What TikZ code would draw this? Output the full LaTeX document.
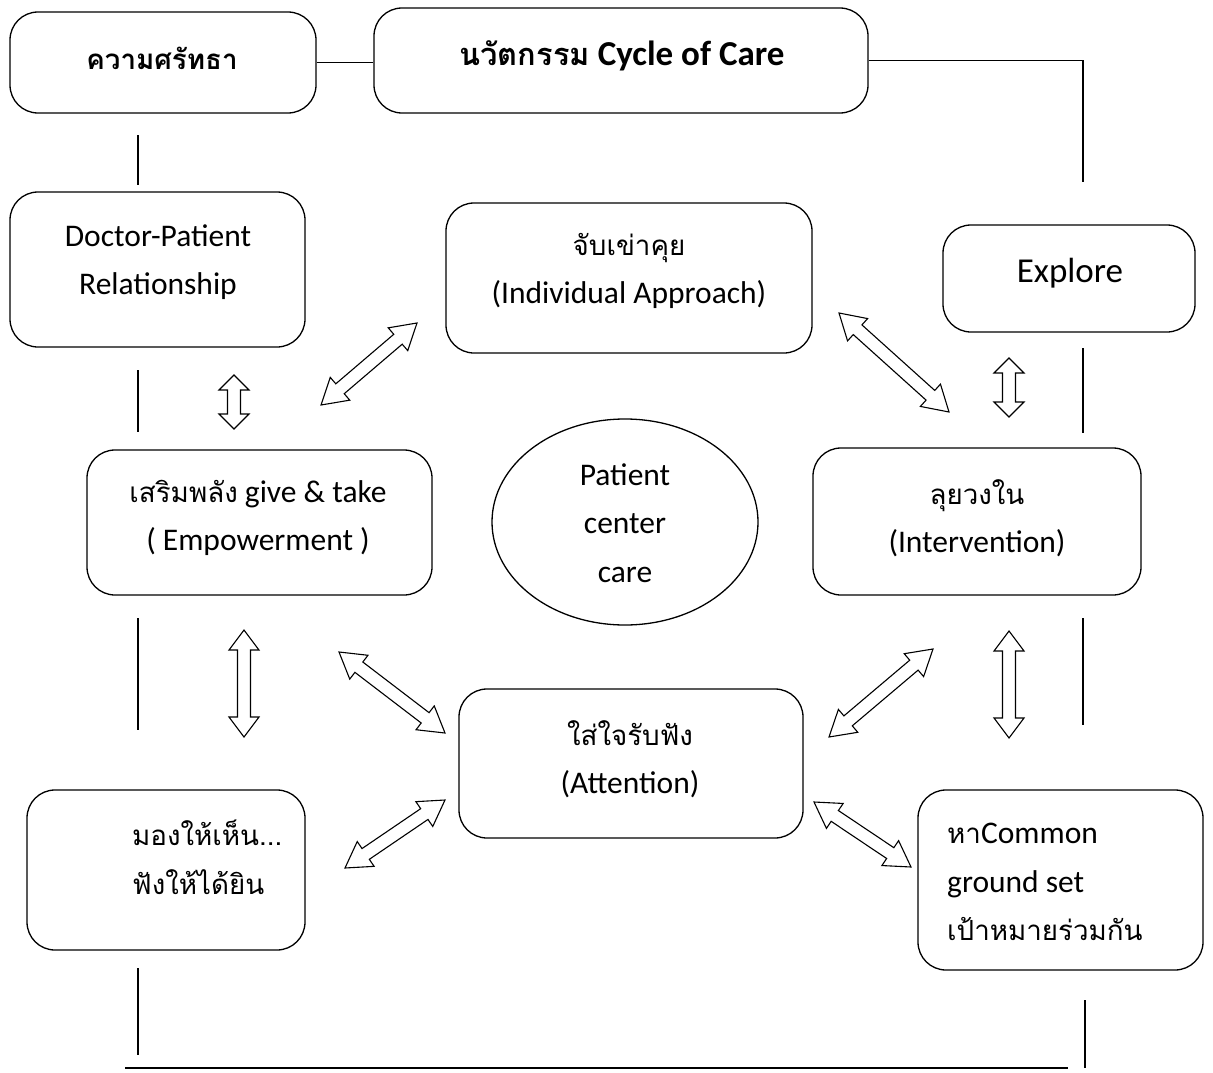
\documentclass[tikz,border=0pt]{standalone}
\usepackage{fontspec}
\setmainfont{Carlito}
\newfontfamily\thai{Loma}[Script=Thai,Scale=0.88]
\newfontfamily\thaiT{Loma}[Script=Thai,Scale=0.88]
\usetikzlibrary{calc,shapes.geometric}
\newcommand{\fnorm}{\fontsize{31.5}{48.5}\selectfont}
\newcommand{\fbig}{\fontsize{35}{40}\selectfont}
\newcommand{\ftitle}{\fontsize{35}{40}\selectfont\bfseries}
\newcommand{\ffaith}{\fontsize{31.5}{40}\selectfont\bfseries}
\newcommand{\blockarrow}[3]{%
 \draw[blockarr] (#1)
  -- ($(#1)!#3!(#2)!15pt!90:(#2)$)
  -- ($(#1)!#3!(#2)!6.5pt!90:(#2)$)
  -- ($(#2)!#3!(#1)!6.5pt!-90:(#1)$)
  -- ($(#2)!#3!(#1)!15pt!-90:(#1)$)
  -- (#2)
  -- ($(#2)!#3!(#1)!15pt!90:(#1)$)
  -- ($(#2)!#3!(#1)!6.5pt!90:(#1)$)
  -- ($(#1)!#3!(#2)!6.5pt!-90:(#2)$)
  -- ($(#1)!#3!(#2)!15pt!-90:(#2)$)
  -- cycle;}
\begin{document}
\begin{tikzpicture}[x=1pt,y=-1pt,
  box/.style={draw, line width=1.3pt, rounded corners=28pt, inner sep=0pt},
  txt/.style={inner sep=0pt, align=center, font=\fnorm},
  ltxt/.style={inner sep=0pt, align=left, font=\fnorm, anchor=west},
  conn/.style={line width=1.2pt},
  blockarr/.style={draw, line width=1.1pt, fill=white, line join=miter}]
\useasboundingbox[fill=white] (0,0) rectangle (1213,1073);

% boxes
\node[box, minimum width=306, minimum height=101] (faith) at (163,62.5) {};
\node[box, minimum width=494, minimum height=105] (title) at (621,60.5) {};
\node[box, minimum width=295, minimum height=155] (doc) at (157.5,269.5) {};
\node[box, minimum width=366, minimum height=150] (ind) at (629,278) {};
\node[box, minimum width=252, minimum height=107] (exp) at (1069,278.5) {};
\node[box, minimum width=345, minimum height=145] (emp) at (259.5,522.5) {};
\node[draw, line width=1.3pt, ellipse, inner sep=0pt, minimum width=266, minimum height=206] (pcc) at (625,522) {};
\node[box, minimum width=328, minimum height=147] (int) at (977,521.5) {};
\node[box, minimum width=344, minimum height=149] (att) at (631,763.5) {};
\node[box, minimum width=278, minimum height=160] (mong) at (166,870) {};
\node[box, minimum width=285, minimum height=180] (com) at (1060.5,880) {};

% texts
\node[txt, font=\ffaith] (faitht) at (162,58) {\thaiT ความศรัทธา};
\node[txt, font=\ftitle] (titlet) at (622,56) {{\thaiT นวัตกรรม} Cycle of Care};
\node[txt] (doct) at (158,262) {Doctor-Patient\\Relationship};
\node[txt] (indt) at (629,271) {{\thai จับเข่าคุย}\\(Individual Approach)};
\node[txt, font=\fbig] (expt) at (1070,273) {Explore};
\node[txt] (empt) at (258,518) {{\thai เสริมพลัง} give \& take\\( Empowerment )};
\node[txt] (pcct) at (625,523) {Patient\\center\\care};
\node[txt] (intt) at (977,518) {{\thai ลุยวงใน}\\(Intervention)};
\node[txt] (attt) at (630,759) {{\thai ใส่ใจรับฟัง}\\(Attention)};
\node[ltxt] (mongt) at (132,857) {{\thai มองให้เห็น...}\\{\thai ฟังให้ได้ยิน}};
\node[ltxt] (comt) at (947,882) {{\thai หา}Common\\ground set\\{\thai เป้าหมายร่วมกัน}};

% frame segments
\coordinate (rtop) at (1083,182);
\draw[conn] (faith.east) -- (faith.east -| title.west);
\draw[conn] (title.east) -| (rtop);
\coordinate (l1a) at (138,135); \coordinate (l1b) at (138,185);
\coordinate (l2a) at (138,370); \coordinate (l2b) at (138,432);
\coordinate (l3a) at (138,618); \coordinate (l3b) at (138,730);
\coordinate (l4a) at (138,968); \coordinate (l4b) at (138,1055);
\coordinate (r1a) at (1083,348); \coordinate (r1b) at (1083,433);
\coordinate (r2a) at (1083,618); \coordinate (r2b) at (1083,725);
\coordinate (r3a) at (1085,1000); \coordinate (r3b) at (1085,1068);
\coordinate (ba) at (125,1068); \coordinate (bb) at (1068,1068);
\foreach \p in {l1,l2,l3,l4,r1,r2,r3} \draw[conn] (\p a) -- (\p b);
\draw[conn] (ba) -- (bb);

% hollow double arrows
\coordinate (a1s) at (234,375); \coordinate (a1e) at (234,429);
\coordinate (a2s) at (321,405); \coordinate (a2e) at (417,323);
\coordinate (a3s) at (839,313); \coordinate (a3e) at (949,412);
\coordinate (a4s) at (1009,358); \coordinate (a4e) at (1009,417);
\coordinate (a5s) at (244,630); \coordinate (a5e) at (244,737);
\coordinate (a6s) at (339,652); \coordinate (a6e) at (445,733);
\coordinate (a7s) at (829,737); \coordinate (a7e) at (933,649);
\coordinate (a8s) at (1009,631); \coordinate (a8e) at (1009,738);
\coordinate (a9s) at (345,868); \coordinate (a9e) at (445,800);
\coordinate (a10s) at (814,802); \coordinate (a10e) at (911,867);
\blockarrow{a1s}{a1e}{15pt}
\blockarrow{a2s}{a2e}{25pt}
\blockarrow{a3s}{a3e}{25pt}
\blockarrow{a4s}{a4e}{15pt}
\blockarrow{a5s}{a5e}{20pt}
\blockarrow{a6s}{a6e}{25pt}
\blockarrow{a7s}{a7e}{25pt}
\blockarrow{a8s}{a8e}{20pt}
\blockarrow{a9s}{a9e}{25pt}
\blockarrow{a10s}{a10e}{25pt}
\end{tikzpicture}
\end{document}
